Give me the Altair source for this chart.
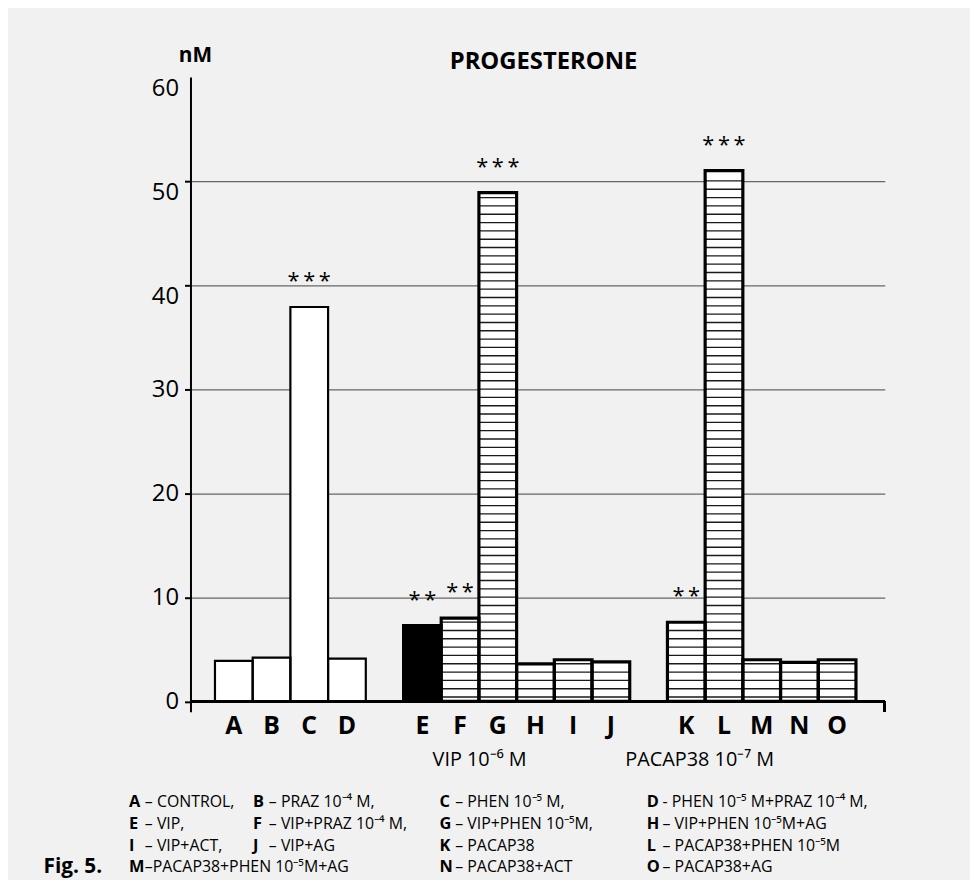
import altair as alt
import pandas as pd

# ---------------- data ----------------
categories = list("ABCDEFGHIJKLMNO")
values = [3.9, 4.2, 37.9, 4.1, 7.3, 8.0, 48.9, 3.6, 4.0, 3.8, 7.6, 51.0, 4.0, 3.75, 4.0]
fill_kind = ["open", "open", "open", "open", "solid"] + ["hatched"] * 10
stars = ["", "", "*\u2009*\u2009*", "", "*\u2009*", "*\u2009*", "*\u2009*\u2009*", "", "", "",
         "*\u2009*", "*\u2009*\u2009*", "", "", ""]

# band slots incl. two empty gap slots
x_slots = ["A", "B", "C", "D", " ", "E", "F", "G", "H", "I", "J", "  ", "K", "L", "M", "N", "O"]
y_ticks = [0, 10, 20, 30, 40, 50, 60]

title_text = "PROGESTERONE"
unit_text = "nM"
group_labels = ["VIP 10\u207b\u2076 M", "PACAP38 10\u207b\u2077 M"]
fig_label = "Fig. 5."

legend_letters = ["A", "B", "C", "D",
                  "E", "F", "G", "H",
                  "I", "J", "K", "L",
                  "M", "N", "O"]
legend_desc = ["\u2013 CONTROL,", "\u2013 PRAZ 10\u207b\u2074 M,", "\u2013 PHEN 10\u207b\u2075 M,",
               " - PHEN 10\u207b\u2075 M+PRAZ 10\u207b\u2074 M,",
               "\u2013 VIP,", "\u2013 VIP+PRAZ 10\u207b\u2074 M,", "\u2013 VIP+PHEN 10\u207b\u2075M,",
               "\u2013 VIP+PHEN 10\u207b\u2075M+AG",
               "\u2013 VIP+ACT,", "\u2013 VIP+AG", "\u2013 PACAP38", "\u2013 PACAP38+PHEN 10\u207b\u2075M",
               "\u2013PACAP38+PHEN 10\u207b\u2075M+AG", "\u2013 PACAP38+ACT", "\u2013 PACAP38+AG"]
legend_row = [0, 0, 0, 0, 1, 1, 1, 1, 2, 2, 2, 2, 3, 3, 3]
legend_col = [0, 1, 2, 3, 0, 1, 2, 3, 0, 1, 2, 3, 0, 2, 3]

# ---------------- layout (pixels, relative to plot origin) ----------------
W, H = 700, 640
FONT = "Open Sans"
legend_col_x = [-62, 63, 251, 460]
legend_row_y = [731, 753, 775.5, 797]
desc_offset = 16

# ---------------- tables ----------------
bars = pd.DataFrame({"cat": categories, "val": values, "kind": fill_kind, "star": stars})
bars["fillc"] = bars["kind"].map({"open": "white", "solid": "black", "hatched": "white"})
bars["sw"] = bars["kind"].map({"open": 2.2, "solid": 3, "hatched": 3.2})

stripe_step, stripe_start, stripe_th = 0.8, 0.35, 0.13
srows = []
for c, v, k in zip(categories, values, fill_kind):
    if k == "hatched":
        y = stripe_start
        while y < v - 0.3:
            srows.append({"cat": c, "s0": y, "s1": y + stripe_th})
            y += stripe_step
stripes = pd.DataFrame(srows)

leg = pd.DataFrame({
    "letter": legend_letters,
    "desc": legend_desc,
    "lx": [legend_col_x[c] for c in legend_col],
    "dx": [legend_col_x[c] + desc_offset for c in legend_col],
    "ly": [legend_row_y[r] for r in legend_row],
})

center_bold = pd.DataFrame({"t": [unit_text, title_text], "px": [5, 356], "py": [-21, -15], "fs": [21, 24]})
center_reg = pd.DataFrame({"t": group_labels, "px": [291.5, 513.5], "py": [689, 689], "fs": [20, 20]})
fig_df = pd.DataFrame({"t": [fig_label], "px": [-89], "py": [797]})

# ---------------- scales ----------------
xscale = alt.Scale(domain=x_slots, paddingInner=0, paddingOuter=0.706, align=0.46)
yscale = alt.Scale(domain=[-1, 60], nice=False, zero=False)

x_enc = alt.X("cat:N", scale=xscale,
              axis=alt.Axis(title=None, labelAngle=0, ticks=False, domain=False,
                            labelFont=FONT, labelFontSize=25, labelFontWeight="bold",
                            labelColor="black", labelPadding=2, labelBaseline="top"))
y_axis = alt.Axis(values=y_ticks, title=None, grid=True, gridColor="#666666", gridWidth=1.2,
                  gridOpacity=alt.condition("datum.value == 0 || datum.value == 60", alt.value(0), alt.value(1)),
                  tickOpacity=alt.condition("datum.value == 60", alt.value(0), alt.value(1)),
                  tickSize=6, tickWidth=2, tickColor="black",
                  domainColor="black", domainWidth=2,
                  labelFont=FONT, labelFontSize=24, labelColor="black", labelPadding=6,
                  labelBaseline=alt.condition("datum.value >= 35", alt.value("top"), alt.value("middle")))

base = alt.Chart(bars)

fill_layer = base.mark_bar(strokeWidth=0).encode(
    x=x_enc,
    y=alt.Y("val:Q", scale=yscale, axis=y_axis),
    y2=alt.Y2(datum=0),
    fill=alt.Fill("fillc:N", scale=None),
)

stripe_layer = alt.Chart(stripes).mark_bar(color="#1a1a1a").encode(
    x=alt.X("cat:N", scale=xscale),
    y=alt.Y("s0:Q", scale=yscale),
    y2="s1:Q",
)

outline_layer = base.mark_bar(fillOpacity=0, stroke="black").encode(
    x=alt.X("cat:N", scale=xscale),
    y=alt.Y("val:Q", scale=yscale),
    y2=alt.Y2(datum=0),
    strokeWidth=alt.StrokeWidth("sw:Q", scale=None),
)

xaxis_line = base.mark_rule(color="black", strokeWidth=2.5).encode(
    y=alt.Y(datum=0, scale=yscale), x=alt.value(0), x2=alt.value(W))
xaxis_end = base.mark_rule(color="black", strokeWidth=2.5).encode(
    x=alt.value(W), y=alt.Y(datum=0, scale=yscale), y2=alt.Y2(datum=-1))

star_layer = base.mark_text(font=FONT, fontSize=22, baseline="alphabetic", dy=-19, color="black").encode(
    x=alt.X("cat:N", scale=xscale),
    y=alt.Y("val:Q", scale=yscale),
    text="star:N",
)

leg_letters = alt.Chart(leg).mark_text(font=FONT, fontSize=16.5, fontWeight="bold", align="left",
                                       baseline="middle", color="black").encode(
    x=alt.X("lx:Q", scale=None, axis=None), y=alt.Y("ly:Q", scale=None, axis=None), text="letter:N")
leg_desc = alt.Chart(leg).mark_text(font=FONT, fontSize=16, align="left",
                                    baseline="middle", color="black").encode(
    x=alt.X("dx:Q", scale=None, axis=None), y=alt.Y("ly:Q", scale=None, axis=None), text="desc:N")

cb = alt.Chart(center_bold).mark_text(font=FONT, fontWeight="bold", align="center",
                                      baseline="middle", color="black").encode(
    x=alt.X("px:Q", scale=None, axis=None), y=alt.Y("py:Q", scale=None, axis=None),
    text="t:N", size=alt.Size("fs:Q", scale=None))
cr = alt.Chart(center_reg).mark_text(font=FONT, align="center", baseline="middle", color="black").encode(
    x=alt.X("px:Q", scale=None, axis=None), y=alt.Y("py:Q", scale=None, axis=None),
    text="t:N", size=alt.Size("fs:Q", scale=None))
fg = alt.Chart(fig_df).mark_text(font=FONT, fontWeight="bold", fontSize=21, align="right",
                                 baseline="middle", color="black").encode(
    x=alt.X("px:Q", scale=None, axis=None), y=alt.Y("py:Q", scale=None, axis=None), text="t:N")

chart = alt.layer(
    fill_layer, stripe_layer, outline_layer, xaxis_line, xaxis_end, star_layer,
    leg_letters, leg_desc, cb, cr, fg,
).properties(
    width=W, height=H,
    autosize=alt.AutoSizeParams(type="none"),
    padding={"left": 184, "top": 66, "right": 86, "bottom": 166},
    background="#f1f1f1",
).configure_view(stroke=None)

chart.save("out.html", embed_options={"renderer": "svg", "actions": False})
